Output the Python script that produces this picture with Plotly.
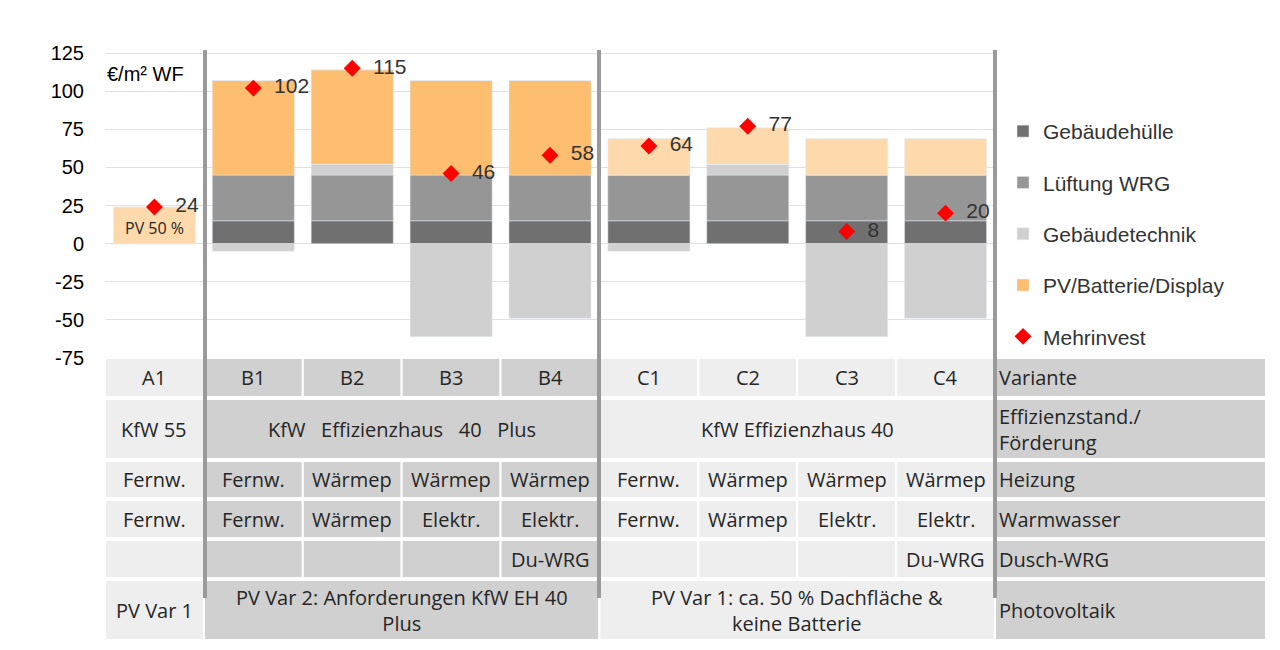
import plotly.graph_objects as go

varianten = ['A1', 'B1', 'B2', 'B3', 'B4', 'C1', 'C2', 'C3', 'C4']
gebaeudehuelle = [0, 15, 15, 15, 15, 15, 15, 15, 15]
lueftung = [0, 30, 30, 30, 30, 30, 30, 30, 30]
gebaeudetechnik = [0, -5, 7, -61, -49, -5, 7, -61, -49]
pv_var2 = [0, 62, 62, 62, 62, 0, 0, 0, 0]
pv_var1 = [24, 0, 0, 0, 0, 24, 24, 24, 24]
mehrinvest = [24, 102, 115, 46, 58, 64, 77, 8, 20]

heizung = ['Fernw.', 'Fernw.', 'Wärmep', 'Wärmep', 'Wärmep', 'Fernw.', 'Wärmep', 'Wärmep', 'Wärmep']
warmwasser = ['Fernw.', 'Fernw.', 'Wärmep', 'Elektr.', 'Elektr.', 'Fernw.', 'Wärmep', 'Elektr.', 'Elektr.']
dusch = ['', '', '', '', 'Du-WRG', '', '', '', 'Du-WRG']
zeilen = ['Variante', 'Effizienzstand./<br>Förderung', 'Heizung', 'Warmwasser', 'Dusch-WRG', 'Photovoltaik']

W, H = 1280, 650
L, R, T, B = 97, 987, 42, 350
COLW = (R - L) / 9

def px(p):
    return p / W

def py(p):
    return 1 - p / H

x = list(range(len(varianten)))
fig = go.Figure()
fig.add_bar(x=x, y=gebaeudehuelle, name='Gebäudehülle', marker_color='#707070', legendgroup='a')
fig.add_bar(x=x, y=lueftung, name='Lüftung WRG', marker_color='#969696', legendgroup='b')
fig.add_bar(x=x, y=gebaeudetechnik, name='Gebäudetechnik', marker_color='#d0d0d0', legendgroup='c')
fig.add_bar(x=x, y=pv_var2, name='PV/Batterie/Display', marker_color='#fdbe6f', legendgroup='pv')
fig.add_bar(x=x, y=pv_var1, name='PV/Batterie/Display', marker_color='#fed9ac', legendgroup='pv', showlegend=False)
fig.add_scatter(x=x, y=mehrinvest, name='Mehrinvest', mode='markers+text', legendgroup='m',
                marker=dict(symbol='diamond', color='#ff0000', size=13),
                text=['  ' + str(v) for v in mehrinvest], textposition='middle right',
                textfont=dict(size=21, color='#333333', family='Liberation Sans, Arial'))

shapes = []
ann = []
rows = [(350, 389), (391, 451), (453, 490), (492, 530), (532, 570), (572, 632)]

def cell(c0, c1, r, color, text, left=False):
    x0, x1 = L + c0 * COLW, L + c1 * COLW
    shapes.append(dict(type='rect', xref='paper', yref='paper', x0=px(x0), x1=px(x1),
                       y0=py(rows[r][1]), y1=py(rows[r][0]),
                       fillcolor=color, line=dict(color='white', width=2), layer='below'))
    if text:
        ann.append(dict(xref='paper', yref='paper', x=px(x0 + 2) if left else px((x0 + x1) / 2),
                        xanchor='left' if left else 'center', align='left' if left else 'center',
                        y=py((rows[r][0] + rows[r][1]) / 2), yanchor='middle',
                        text=text, showarrow=False, font=dict(size=20, color='#262626')))

light, dark = '#eeeeee', '#d0d0d0'
def col_color(i):
    return dark if 1 <= i <= 4 else light
for i in x:
    cell(i, i + 1, 0, col_color(i), varianten[i])
    cell(i, i + 1, 2, col_color(i), heizung[i])
    cell(i, i + 1, 3, col_color(i), warmwasser[i])
    cell(i, i + 1, 4, col_color(i), dusch[i])
cell(0, 1, 1, light, 'KfW 55')
cell(1, 5, 1, dark, 'KfW   Effizienzhaus   40   Plus')
cell(5, 9, 1, light, 'KfW Effizienzhaus 40')
cell(0, 1, 5, light, 'PV Var 1')
cell(1, 5, 5, dark, 'PV Var 2: Anforderungen KfW EH 40<br>Plus')
cell(5, 9, 5, light, 'PV Var 1: ca. 50 % Dachfläche &<br>keine Batterie')
for r, z in enumerate(zeilen):
    cell(9, (1258 - L) / COLW, r, dark, z, left=True)

for xv in [197, 591, 987]:
    shapes.append(dict(type='line', xref='paper', yref='paper', x0=px(xv), x1=px(xv), y0=py(590), y1=py(42),
                       line=dict(color='#9a9a9a', width=4)))

ann.append(dict(xref='paper', yref='paper', x=px(97), y=py(66), xanchor='left', yanchor='middle',
                text='€/m² WF', showarrow=False, font=dict(size=20, color='#000000', family='Liberation Sans, Arial')))
ann.append(dict(xref='x', yref='y', x=0, y=10, text='PV 50 %', showarrow=False,
                font=dict(size=16, color='#262626')))

fig.update_layout(
    width=W, height=H, barmode='relative', bargap=0.17,
    margin=dict(l=0, r=0, t=0, b=0), autosize=False,
    plot_bgcolor='white', paper_bgcolor='white',
    font=dict(family='Open Sans, Liberation Sans, Arial', color='#262626'),
    xaxis=dict(domain=[px(L), px(R)], range=[-0.5, 8.5], showticklabels=False, showgrid=False,
               zeroline=False, fixedrange=True, automargin=False),
    yaxis=dict(domain=[py(B), py(T)], range=[-75, 127], tickvals=[-75, -50, -25, 0, 25, 50, 75, 100, 125],
               ticktext=['-75', '-50', '-25', '0', '25', '50', '75', '100', '125'],
               showgrid=True, gridcolor='#e0e0e0', zeroline=False, ticks='', ticklabelstandoff=20,
               automargin=False, tickfont=dict(size=20, color='#000000', family='Liberation Sans, Arial')),
    legend=dict(x=px(995), y=py(103), xanchor='left', yanchor='top', tracegroupgap=21, itemwidth=30,
                font=dict(size=21, color='#333333', family='Liberation Sans, Arial')),
    shapes=shapes, annotations=ann,
)
fig.write_html('out.html')
